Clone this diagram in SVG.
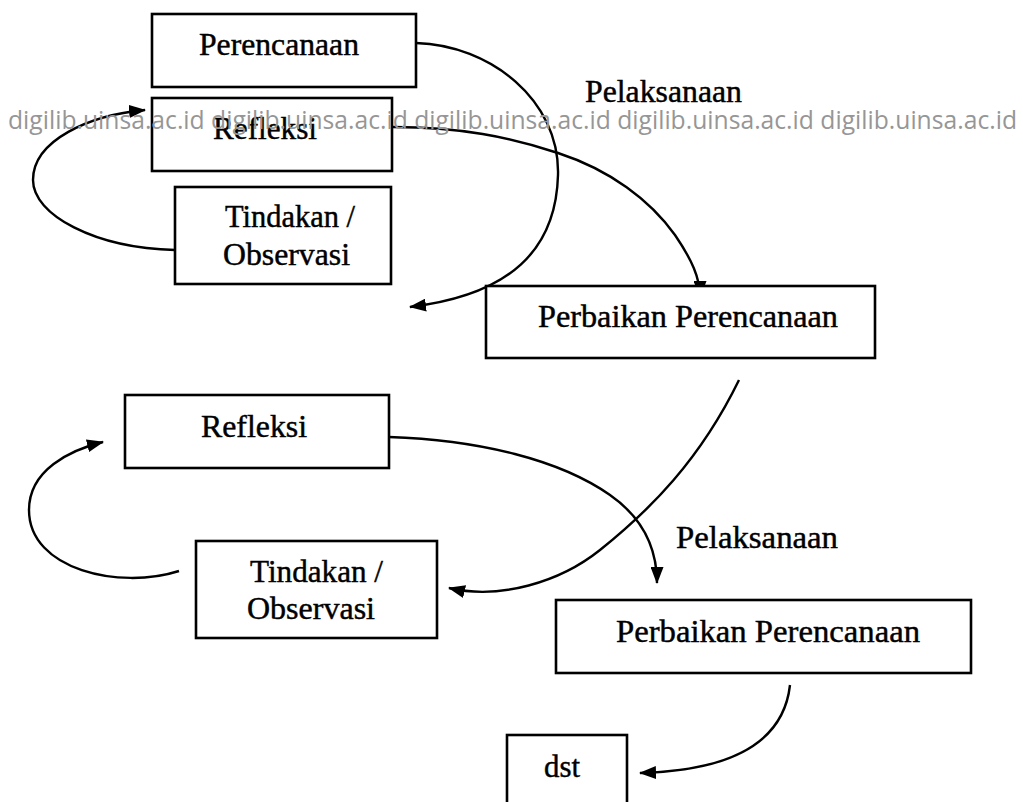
<svg xmlns="http://www.w3.org/2000/svg" width="1023" height="802" viewBox="0 0 1023 802">
<style>
.box{fill:#fff;stroke:#000;stroke-width:2.6}
.lbl{font-family:"Liberation Serif","Times New Roman",serif;font-size:31px;fill:#000;stroke:#000;stroke-width:0.45}
.lbl2{font-family:"Liberation Serif","Times New Roman",serif;font-size:32px;fill:#000;stroke:#000;stroke-width:0.45}
.wire{fill:none;stroke:#000;stroke-width:2.4}
.arr{marker-end:url(#ah)}
.wm{font-family:"Open Sans","Liberation Sans",sans-serif;font-size:26px;fill:#969696}
</style>
<defs>
<marker id="ah" markerUnits="userSpaceOnUse" markerWidth="17" markerHeight="13" refX="16" refY="6.5" orient="auto">
<path d="M0,0 L17,6.5 L0,13 z" fill="#000"/>
</marker>
</defs>
<rect width="1023" height="802" fill="#fff"/>
<g id="connectors">
<path class="wire arr" d="M416,43 C490,45 560,100 558,175 C556,250 510,295 410,307"/>
<path class="wire arr" d="M393,127 C460,127 510,137 558,153 C610,170 650,200 675,235 C692,260 700,278 700,297"/>
<path class="wire arr" d="M175,250 C95,248 33,215 33,180 C33,140 90,115 145,110"/>
<path class="wire arr" d="M739,380 C700,460 650,510 600,550 C560,582 500,600 449,588"/>
<path class="wire arr" d="M389,437 C480,440 560,460 610,495 C640,516 657,545 657,583"/>
<path class="wire arr" d="M179,571 C120,590 29,570 29,510 C29,470 70,450 103,442"/>
<path class="wire arr" d="M790,685 C785,730 750,770 640,773"/>
</g>
<g id="perencanaan">
<rect class="box" x="152" y="14" width="264" height="73"/>
<text class="lbl" x="199" y="55" textLength="160" lengthAdjust="spacingAndGlyphs">Perencanaan</text>
</g>
<g id="refleksi1">
<rect class="box" x="152" y="98" width="240" height="73"/>
<text class="lbl" x="213" y="139" textLength="104" lengthAdjust="spacingAndGlyphs">Refleksi</text>
</g>
<g id="tindakan1">
<rect class="box" x="175" y="187" width="216" height="97"/>
<text class="lbl" x="225" y="227" textLength="130" lengthAdjust="spacingAndGlyphs">Tindakan /</text>
<text class="lbl" x="223" y="265" textLength="127" lengthAdjust="spacingAndGlyphs">Observasi</text>
</g>
<g id="pelaksanaan1">
<text class="lbl" x="585" y="102" textLength="157" lengthAdjust="spacingAndGlyphs">Pelaksanaan</text>
</g>
<g id="perbaikan1">
<rect class="box" x="486" y="286" width="389" height="72"/>
<text class="lbl" x="538" y="327" textLength="300" lengthAdjust="spacingAndGlyphs">Perbaikan Perencanaan</text>
</g>
<g id="refleksi2">
<rect class="box" x="125" y="395" width="264" height="73"/>
<text class="lbl2" x="201" y="437" textLength="106" lengthAdjust="spacingAndGlyphs">Refleksi</text>
</g>
<g id="tindakan2">
<rect class="box" x="196" y="541" width="241" height="97"/>
<text class="lbl2" x="250" y="582" textLength="133" lengthAdjust="spacingAndGlyphs">Tindakan /</text>
<text class="lbl2" x="247" y="619" textLength="128" lengthAdjust="spacingAndGlyphs">Observasi</text>
</g>
<g id="pelaksanaan2">
<text class="lbl2" x="676" y="548" textLength="162" lengthAdjust="spacingAndGlyphs">Pelaksanaan</text>
</g>
<g id="perbaikan2">
<rect class="box" x="556" y="600" width="415" height="73"/>
<text class="lbl2" x="616" y="642" textLength="304" lengthAdjust="spacingAndGlyphs">Perbaikan Perencanaan</text>
</g>
<g id="dst">
<rect class="box" x="507" y="735" width="120" height="80"/>
<text class="lbl2" x="544" y="777" textLength="36" lengthAdjust="spacingAndGlyphs">dst</text>
</g>
<g id="watermark">
<text class="wm" x="8" y="129" textLength="1009" lengthAdjust="spacingAndGlyphs">digilib.uinsa.ac.id digilib.uinsa.ac.id digilib.uinsa.ac.id digilib.uinsa.ac.id digilib.uinsa.ac.id</text>
</g>
</svg>
